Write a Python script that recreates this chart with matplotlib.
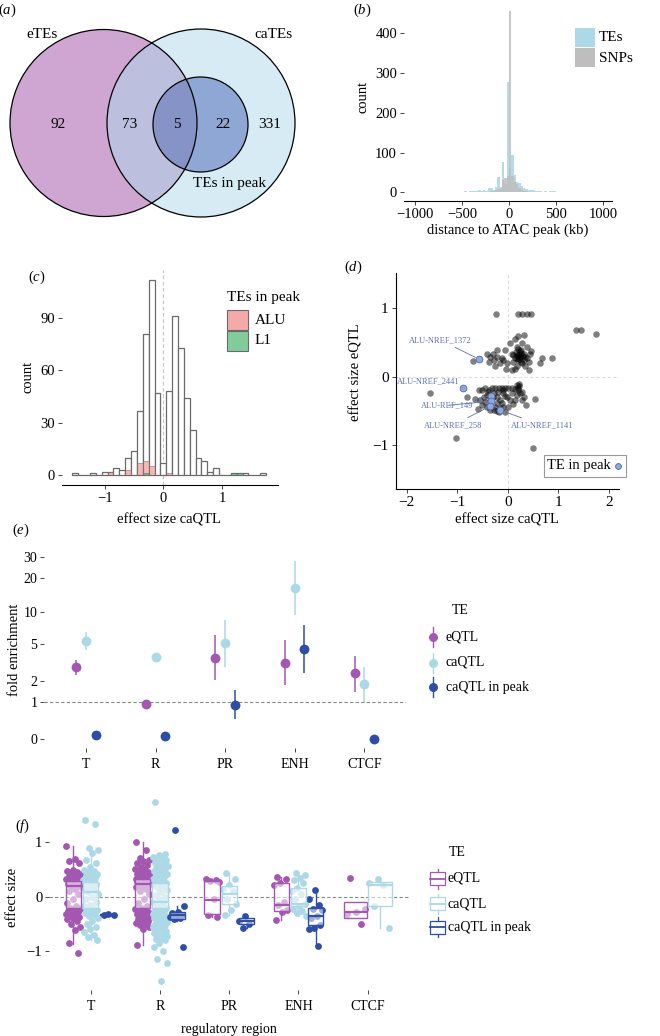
import numpy as np
import matplotlib
matplotlib.use('Agg')
import matplotlib.pyplot as plt
from matplotlib.patches import Circle, Rectangle

plt.rcParams['font.family'] = ['Liberation Serif', 'DejaVu Serif']
plt.rcParams['mathtext.fontset'] = 'custom'
plt.rcParams['mathtext.rm'] = 'Liberation Serif'
plt.rcParams['mathtext.it'] = 'Liberation Serif:italic'
plt.rcParams['font.size'] = 10
plt.rcParams['axes.unicode_minus'] = True

W, H = 660, 1036

# ---------------- data ----------------
# (a) venn counts: eTEs only, eTEs&caTEs, eTEs&peak, caTEs&peak, caTEs only
venn_values = [92, 73, 5, 22, 331]

# (b) distance of TEs / SNPs to ATAC peak, 25 kb bins from -1000 to 1000
dist_edges = np.arange(-1000, 1001, 25)
te_counts = [1, 1, 2, 1, 1, 2, 1, 1, 2, 1, 2, 1, 1, 2, 2, 1, 2, 2, 1, 2,
             2, 3, 2, 3, 3, 4, 3, 5, 4, 6,
             3, 10, 12, 6, 14, 39, 14, 75, 20, 276,
             60, 94, 44, 27, 24, 16, 10, 8, 6, 7,
             5, 4, 3, 4, 2, 3, 2, 3, 4, 3,
             2, 1, 2, 1, 1, 2, 1, 1, 2, 1, 1, 2, 1, 1, 1, 2, 1, 1, 1, 1]
snp_counts = [0] * 30 + [1, 2, 3, 4, 6, 8, 12, 30, 35, 40,
                         455, 40, 25, 20, 10, 6, 4, 3, 2, 2] + [0] * 30

# (c) caQTL effect size histogram, bins of 0.1
es_centers = [-1.5, -1.4, -1.3, -1.2, -1.1, -1.0, -0.9, -0.8, -0.7, -0.6, -0.5,
              -0.4, -0.3, -0.2, -0.1, 0.0, 0.1, 0.2, 0.3, 0.4, 0.5, 0.6, 0.7,
              0.8, 0.9, 1.0, 1.1, 1.2, 1.3, 1.4, 1.5, 1.6, 1.7]
es_all = [1, 0, 0, 1, 0, 2, 2, 4, 3, 10, 14, 37, 81, 112, 47, 7, 48, 91, 73,
          44, 26, 10, 8, 2, 4, 0, 0, 1, 1, 1, 0, 0, 1]
es_alu = [0, 0, 0, 0, 0, 0, 2, 0, 0, 3, 0, 7, 8, 5, 0, 0, 1, 0, 0,
          0, 0, 0, 0, 0, 0, 0, 0, 0, 0, 0, 0, 0, 0]
es_l1 = [0, 0, 0, 0, 0, 0, 0, 0, 0, 0, 0, 0, 1, 0, 0, 0, 0, 0, 0,
         0, 0, 0, 0, 0, 0, 0, 0, 1, 1, 0, 0, 0, 0]

# (d) caQTL vs eQTL effect sizes
d_ca = [-0.41, -0.36, -0.38, -0.28, -0.25, -0.22, -0.15, -0.09, -0.05, -0.03,
        0.05, 0.08, 0.11, 0.14, 0.18, 0.21, 0.24, 0.26, 0.28, 0.31, 0.31, 0.34,
        0.38, 0.41, 0.44, 0.46, 0.14, 0.08, 0.21, 0.18, 0.34, 0.28, 0.11, 0.18,
        0.24, 0.38, 0.31, -0.30, -0.22, -0.12, -0.02, 0.42,
        0.20, 0.22, 0.25, 0.19, 0.23, 0.27, 0.17, 0.29, 0.15, 0.26, 0.21,
        -0.24, 0.21, 0.28, 0.38, 0.46, 1.35, 1.44, 1.74, 0.87, 0.68, 0.63, -0.69,
        -0.58, -0.51, -0.45, -0.38, -0.32, -0.25, -0.18, -0.12, -0.05, 0.01,
        0.08, 0.18, 0.23, 0.21, 0.24, 0.28, 0.31, 0.28, -0.28, -0.22, -0.15,
        -0.09, -0.02, -0.22, -0.35, -0.41, -0.35, -0.28, -0.22, -0.15, -0.09,
        -0.48, -0.45, -0.41, -0.51, -0.55, 0.05, -0.12, -0.05, 0.01, 0.18,
        0.14, 0.08, -0.20, -0.10, -0.30, 0.20, 0.22, -0.25, -0.18, -0.40, 0.15,
        -0.05, -1.55, -1.02, 0.49, 0.54, -0.81, -0.66, -0.60, 0.36, 0.10]
d_e = [0.34, 0.29, 0.22, 0.24, 0.15, 0.29, 0.20, 0.24, 0.39, 0.12,
       0.49, 0.34, 0.22, 0.56, 0.44, 0.59, 0.29, 0.39, 0.20, 0.61, 0.34, 0.29,
       0.44, 0.22, 0.34, 0.37, 0.12, 0.10, 0.24, 0.15, 0.15, 0.49, 0.32, 0.32,
       0.37, 0.27, 0.24, 0.34, 0.39, 0.27, 0.20, 0.10,
       0.30, 0.33, 0.31, 0.27, 0.26, 0.35, 0.36, 0.30, 0.28, 0.22, 0.40,
       0.92, 0.92, 0.92, 0.92, 0.92, 0.69, 0.69, 0.63, 0.28, 0.27, 0.20, 0.23,
       -0.19, -0.20, -0.17, -0.20, -0.16, -0.16, -0.17, -0.16, -0.16, -0.17,
       -0.16, -0.12, -0.10, -0.17, -0.24, -0.22, -0.29, -0.34, -0.24, -0.29,
       -0.34, -0.24, -0.29, -0.39, -0.34, -0.44, -0.49, -0.49, -0.50, -0.46,
       -0.44, -0.29, -0.37, -0.27, -0.41, -0.34, -0.34, -0.39, -0.51, -0.44,
       -0.27, -0.34, -0.24, -0.22, -0.20, -0.30, -0.20, -0.14, -0.45, -0.52,
       -0.22, -0.18, -0.28, -0.24, -0.90, -1.05, -0.32, -0.29, -0.32, -0.47,
       -0.41, -0.40]
peak_ca = [-0.58, -0.89, -0.34, -0.34, -0.35, -0.15]
peak_e = [0.26, -0.16, -0.28, -0.36, -0.43, -0.49]
peak_names = ['ALU-NREF_1372', 'ALU-NREF_2441', 'ALU-REF_149', '',
              'ALU-NREF_258', 'ALU-NREF_1141']

# (e) fold enrichment by regulatory region
regions = ['T', 'R', 'PR', 'ENH', 'CTCF']
fe_eqtl = [2.87, 0.92, 3.64, 3.22, 2.45]
fe_eqtl_lo = [2.35, 0.90, 2.04, 1.77, 1.44]
fe_eqtl_hi = [3.44, 0.94, 6.11, 5.47, 3.79]
fe_caqtl = [5.39, 3.70, 5.08, 16.2, 1.80]
fe_caqtl_lo = [4.36, 3.65, 2.92, 9.38, 1.02]
fe_caqtl_hi = [6.58, 3.75, 8.44, 27.9, 2.87]
fe_peak = [0.07, 0.06, 0.90, 4.43, 0.0]
fe_peak_lo = [0.07, 0.06, 0.45, 2.45, 0.0]
fe_peak_hi = [0.07, 0.06, 1.52, 7.59, 0.0]

# (f) effect sizes per region (points) and box statistics
eqtl_pts = {
    'T': [0.93, 0.70, 0.66, 0.62, 0.50, 0.48, 0.46, 0.44, 0.42, 0.40, 0.38, 0.36,
          0.35, 0.33, 0.31, 0.30, 0.28, 0.26, 0.24, 0.22, 0.20, 0.18, 0.15, 0.10,
          0.05, -0.05, -0.12, -0.18, -0.20, -0.22, -0.24, -0.26, -0.28, -0.30,
          -0.32, -0.34, -0.36, -0.38, -0.40, -0.42, -0.45, -0.50, -0.55, -0.62,
          -0.86, -1.04],
    'R': [1.00, 0.86, 0.72, 0.68, 0.65, 0.62, 0.58, 0.55, 0.52, 0.50, 0.48, 0.46,
          0.44, 0.42, 0.41, 0.40, 0.38, 0.37, 0.36, 0.35, 0.34, 0.33, 0.32, 0.31,
          0.30, 0.29, 0.28, 0.27, 0.26, 0.25, 0.24, 0.23, 0.22, 0.20, 0.18, 0.15,
          0.10, 0.05, -0.05, -0.12, -0.18, -0.20, -0.22, -0.24, -0.26, -0.28,
          -0.30, -0.32, -0.34, -0.36, -0.38, -0.40, -0.42, -0.44, -0.46, -0.48,
          -0.50, -0.53, -0.56, -0.60, -0.89],
    'PR': [0.33, 0.31, 0.29, 0.27, -0.05, -0.33, -0.38],
    'ENH': [0.37, 0.33, 0.25, 0.22, -0.10, -0.15, -0.25, -0.28, -0.43],
    'CTCF': [0.35, -0.22, -0.29, -0.32, -0.50],
}
caqtl_pts = {
    'T': [1.42, 1.35, 0.89, 0.86, 0.80, 0.68, 0.62, 0.55, 0.50, 0.48, 0.45, 0.42,
          0.40, 0.38, 0.35, 0.33, 0.30, 0.28, 0.26, 0.24, 0.20, 0.15, 0.12, 0.09,
          0.05, 0.00, -0.05, -0.10, -0.15, -0.18, -0.20, -0.22, -0.25, -0.28,
          -0.30, -0.33, -0.36, -0.40, -0.45, -0.50, -0.55, -0.60, -0.65, -0.70,
          -0.75, -0.79],
    'R': [1.75, 0.78, 0.77, 0.74, 0.73, 0.70, 0.67, 0.66, 0.63, 0.61, 0.60, 0.57,
          0.56, 0.53, 0.52, 0.50, 0.47, 0.46, 0.43, 0.42, 0.40, 0.37, 0.36, 0.33,
          0.32, 0.30, 0.27, 0.26, 0.23, 0.22, 0.20, 0.16, 0.12, 0.08, 0.03, 0.00,
          -0.04, -0.09, -0.12, -0.17, -0.20, -0.21, -0.24, -0.27, -0.28, -0.31,
          -0.32, -0.35, -0.36, -0.39, -0.40, -0.43, -0.44, -0.47, -0.48, -0.51,
          -0.52, -0.55, -0.56, -0.59, -0.60, -0.63, -0.64, -0.67, -0.68, -0.71,
          -0.72, -0.75, -0.78, -0.80, -0.86, -0.92, -1.00, -1.15, -1.23, -1.55],
    'PR': [0.43, 0.33, 0.22, 0.15, 0.10, -0.05, -0.14, -0.25, -0.33],
    'ENH': [0.43, 0.40, 0.35, 0.30, 0.25, 0.17, 0.10, 0.05, -0.05, -0.13, -0.18,
            -0.22, -0.27, -0.30, -0.35],
    'CTCF': [0.33, 0.25, 0.21, -0.17, -0.57],
}
peak_pts = {
    'T': [-0.34, -0.33, -0.32],
    'R': [1.23, -0.17, -0.28, -0.30, -0.33, -0.35, -0.38, -0.40, -0.42, -0.92],
    'PR': [-0.35, -0.45, -0.50, -0.58],
    'ENH': [0.12, -0.05, -0.15, -0.22, -0.25, -0.35, -0.40, -0.53, -0.58, -0.60,
            -0.90],
    'CTCF': [],
}
# q1, median, q3, whisker low, whisker high
eqtl_box = {'T': [-0.20, 0.20, 0.29, -0.87, 0.93], 'R': [-0.21, 0.23, 0.32, -0.89, 1.00],
            'PR': [-0.31, -0.06, 0.29, -0.38, 0.33], 'ENH': [-0.26, -0.15, 0.26, -0.43, 0.37],
            'CTCF': [-0.39, -0.29, -0.09, -0.39, -0.09]}
caqtl_box = {'T': [-0.20, 0.09, 0.28, -0.79, 0.89], 'R': [-0.20, -0.09, 0.26, -0.80, 0.80],
             'PR': [-0.14, 0.05, 0.20, -0.33, 0.43], 'ENH': [-0.18, -0.13, 0.17, -0.35, 0.43],
             'CTCF': [-0.17, 0.21, 0.28, -0.57, 0.33]}
peak_box = {'T': [-0.34, -0.33, -0.32, -0.34, -0.32], 'R': [-0.41, -0.34, -0.28, -0.45, -0.17],
            'PR': [-0.51, -0.45, -0.39, -0.58, -0.35], 'ENH': [-0.53, -0.36, -0.21, -0.90, 0.12]}

C_E = '#a357b0'
C_CA = '#add8e6'
C_PK = '#2e4da5'
C_BLUEPT = '#8eaadb'
C_LBL = '#5a6fb8'

# ---------------- figure ----------------
fig = plt.figure(figsize=(W / 100, H / 100), dpi=100)


def px_axes(left, top, right, bottom):
    return fig.add_axes([left / W, 1 - bottom / H, (right - left) / W, (bottom - top) / H])


def label_at(ax, which, x, y):
    pt = fig.transFigure.transform((x / W, 1 - y / H))
    axy = ax.transAxes.inverted().transform(pt)
    getattr(ax, which + 'axis').set_label_coords(*axy)


def style(ax, spines=(), size=10.5):
    for s in ['top', 'right', 'left', 'bottom']:
        ax.spines[s].set_visible(s in spines)
        ax.spines[s].set_linewidth(0.8)
    ax.tick_params(length=3, width=0.7, color='#444444', labelsize=size, pad=2)
    ax.patch.set_alpha(0)


def jitter(n, half, shift):
    k = np.arange(n)
    return ((k * 0.6180339887 + shift) % 1 - 0.5) * 2 * half


# ---- (b) ----
axb = px_axes(404, 8, 612, 201.3)
style(axb, ['bottom'])
centers_b = (dist_edges[:-1] + dist_edges[1:]) / 2
axb.bar(centers_b, te_counts, width=25, color=C_CA, alpha=0.9, lw=0)
axb.bar(centers_b, snp_counts, width=25, color='#bebebe', alpha=0.85, lw=0)
axb.set_xlim(-1117, 1096)
axb.set_ylim(-22.5, 463)
axb.set_xticks([-1000, -500, 0, 500, 1000])
axb.set_yticks([0, 100, 200, 300, 400])
axb.set_xlabel('distance to ATAC peak (kb)', fontsize=10.5, va='center')
axb.set_ylabel('count', fontsize=10.5, va='center')
label_at(axb, 'x', 508, 230)
label_at(axb, 'y', 363, 97)

# ---- (c) ----
axc = px_axes(62, 270, 278.3, 485)
style(axc, ['bottom'])
axc.axvline(0, color='#c8c8c8', lw=0.9, ls=(0, (3, 2)), zorder=0)
axc.bar(es_centers, es_all, width=0.1, color='white', edgecolor='#6a6a6a', lw=0.9, zorder=2)
axc.bar(es_centers, es_alu, width=0.1, color='#f08a86', alpha=0.6, edgecolor='#6a6a6a', lw=0.6, zorder=3)
axc.bar(es_centers, es_l1, width=0.1, color='#3aa860', alpha=0.6, edgecolor='#6a6a6a', lw=0.6, zorder=3)
axc.set_xlim(-1.726, 1.959)
axc.set_ylim(-5.7, 117.6)
axc.set_xticks([-1, 0, 1])
axc.set_yticks([0, 30, 60, 90])
axc.set_xlabel('effect size caQTL', fontsize=10.5, va='center')
axc.set_ylabel('count', fontsize=10.5, va='center')
label_at(axc, 'x', 169, 520)
label_at(axc, 'y', 28, 377)

# ---- (d) ----
axd = px_axes(395.7, 273, 619, 489.3)
style(axd, ['left', 'bottom'], size=11)
axd.axvline(0, color='#dddddd', lw=0.8, ls=(0, (3, 2)), zorder=0)
axd.axhline(0, color='#dddddd', lw=0.8, ls=(0, (3, 2)), zorder=0)
axd.scatter(d_ca, d_e, s=22, color='black', alpha=0.5, lw=0, zorder=2)
axd.scatter(peak_ca, peak_e, s=24, color=C_BLUEPT, edgecolor='#5269b0', lw=0.6, zorder=3)
lbl_pos = [(-1.34, 0.54), (-1.57, -0.06), (-1.20, -0.42), (-1.20, -0.42),
           (-1.08, -0.71), (0.67, -0.71)]
for name, x, y, tp in zip(peak_names, peak_ca, peak_e, lbl_pos):
    axd.annotate(name, xy=(x, y), xytext=tp, fontsize=6, color=C_LBL, ha='center', va='center',
                 arrowprops=dict(arrowstyle='-', color=C_LBL, lw=0.6, shrinkA=1, shrinkB=2.5),
                 zorder=4)
axd.set_xlim(-2.22, 2.2)
axd.set_ylim(-1.65, 1.52)
axd.set_xticks([-2, -1, 0, 1, 2])
axd.set_yticks([-1, 0, 1])
axd.set_xlabel('effect size caQTL', fontsize=10.5, va='center')
axd.set_ylabel('effect size eQTL', fontsize=10.5, va='center')
label_at(axd, 'x', 507, 520)
label_at(axd, 'y', 356, 372)

# ---- (e) ----
axe = px_axes(44.2, 553.5, 406, 748)
style(axe, size=10)
axe.set_yscale('function', functions=(np.log1p, np.expm1))
xs = np.arange(1, len(regions) + 1)
axe.plot([0.4, 5.6], [1, 1], color='#888888', lw=0.8, ls=(0, (3, 2)), zorder=1)
for vals, lo, hi, col, off in [(fe_eqtl, fe_eqtl_lo, fe_eqtl_hi, C_E, -0.14),
                               (fe_caqtl, fe_caqtl_lo, fe_caqtl_hi, C_CA, 0.0),
                               (fe_peak, fe_peak_lo, fe_peak_hi, C_PK, 0.14)]:
    axe.vlines(xs + off, lo, hi, color=col, lw=1.1, zorder=2)
    axe.scatter(xs + off, vals, s=50, color=col, lw=0, zorder=3)
axe.set_xlim(0.4, 5.6)
axe.set_ylim(np.expm1(-0.17), np.expm1(3.5))
axe.set_yticks([0, 1, 2, 5, 10, 20, 30])
axe.set_yticklabels(['0', '1', '2', '5', '10', '20', '30'])
axe.set_xticks(xs)
axe.set_xticklabels(regions)
axe.tick_params(axis='x', labelsize=10, pad=4)
axe.set_ylabel('fold enrichment', fontsize=10.5, va='center')
label_at(axe, 'y', 15, 650)

# ---- (f) ----
axf = px_axes(49.2, 792.6, 409.2, 990)
style(axf)
axf.plot([0.4, 5.6], [0, 0], color='#888888', lw=0.8, ls=(0, (3, 2)), zorder=1)
groups = [(eqtl_pts, eqtl_box, C_E), (caqtl_pts, caqtl_box, C_CA), (peak_pts, peak_box, C_PK)]
for ri, reg in enumerate(regions):
    present = [g for g in groups if reg in g[1]]
    offs = [-0.25, 0.0, 0.25] if len(present) == 3 else [-0.175, 0.175]
    bw = 0.22 if len(present) == 3 else 0.34
    for gi, ((pts, box, col), off) in enumerate(zip(present, offs)):
        x0 = ri + 1 + off
        vals = pts[reg]
        axf.scatter(x0 + jitter(len(vals), bw * 0.5, 0.13 * gi + 0.07 * ri), vals,
                    s=24, color=col, lw=0, zorder=2)
        q1, med, q3, wlo, whi = box[reg]
        st = dict(q1=q1, med=med, q3=q3, whislo=wlo, whishi=whi)
        axf.bxp([st], positions=[x0], widths=bw, patch_artist=True, showfliers=False,
                showcaps=False, manage_ticks=False,
                boxprops=dict(facecolor=(1, 1, 1, 0.55), edgecolor=col, lw=1.0),
                whiskerprops=dict(color=col, lw=1.0),
                medianprops=dict(color=col, lw=1.6), zorder=3)
axf.set_xlim(0.4, 5.6)
axf.set_ylim(-1.72, 1.92)
axf.set_yticks([-1, 0, 1])
axf.set_xticks(xs)
axf.set_xticklabels(regions)
axf.tick_params(axis='x', labelsize=10, pad=4)
axf.set_ylabel('effect size', fontsize=10.5, va='center')
axf.set_xlabel('regulatory region', fontsize=10, va='center')
label_at(axf, 'y', 13, 897)
label_at(axf, 'x', 229, 1029)

# ---- overlay: venn, legends, panel letters ----
ov = fig.add_axes([0, 0, 1, 1])
ov.set_xlim(0, W)
ov.set_ylim(H, 0)
ov.axis('off')
ov.set_zorder(10)

left_c = ((103.5, 123), 93.5)
right_c = ((201, 123), 94)
inner_c = ((200.5, 124.5), 47.5)
ov.add_patch(Circle(*left_c, color='#cfa6d2', lw=0))
ov.add_patch(Circle(*right_c, color='#d6ebf3', lw=0))
clipL = Circle(*left_c, transform=ov.transData)
p = Circle(*right_c, color='#bcc0de', lw=0)
ov.add_patch(p)
p.set_clip_path(clipL)
ov.add_patch(Circle(*inner_c, color='#8fa7d4', lw=0))
clipL2 = Circle(*left_c, transform=ov.transData)
p2 = Circle(*inner_c, color='#8593c7', lw=0)
ov.add_patch(p2)
p2.set_clip_path(clipL2)
for c in [left_c, right_c, inner_c]:
    ov.add_patch(Circle(*c, fill=False, edgecolor='black', lw=0.9))
for v, x in zip(venn_values, [58, 130, 177, 223, 270]):
    ov.text(x, 125, str(v), ha='center', va='center', fontsize=11)
ov.text(42, 34, 'eTEs', ha='center', va='center', fontsize=11)
ov.text(273, 34, 'caTEs', ha='center', va='center', fontsize=11)
ov.text(230, 183, 'TEs in peak', ha='center', va='center', fontsize=11)

# legend (b)
ov.add_patch(Rectangle((575, 28.3), 20, 18.4, color=C_CA, lw=0))
ov.add_patch(Rectangle((575, 48.3), 20, 19, color='#bebebe', lw=0))
ov.text(599, 37.5, 'TEs', va='center', fontsize=11)
ov.text(599, 58, 'SNPs', va='center', fontsize=11)

# legend (c)
ov.text(227, 298, 'TEs in peak', va='center', fontsize=11)
ov.add_patch(Rectangle((227.3, 310), 20.4, 20, facecolor='#f4aaa8', edgecolor='#6a6a6a', lw=0.8))
ov.add_patch(Rectangle((227.3, 331), 20.4, 20, facecolor='#82cc9c', edgecolor='#6a6a6a', lw=0.8))
ov.text(255, 320, 'ALU', va='center', fontsize=11)
ov.text(255, 341, 'L1', va='center', fontsize=11)

# legend (d)
ov.add_patch(Rectangle((544, 455), 82, 22, facecolor='white', edgecolor='#999999', lw=0.8))
ov.text(547, 466, 'TE in peak', va='center', fontsize=10.5)
ov.scatter([618], [466], s=18, color=C_BLUEPT, edgecolor='#5269b0', lw=0.6)

# legend (e)
ov.text(460, 611, 'TE', ha='center', va='center', fontsize=10)
for y, col, name in [(637, C_E, 'eQTL'), (662.5, C_CA, 'caQTL'), (687, C_PK, 'caQTL in peak')]:
    ov.plot([433, 433], [y - 10, y + 10], color=col, lw=1.0)
    ov.scatter([433], [y], s=42, color=col, lw=0)
    ov.text(446, y, name, va='center', fontsize=10)

# legend (f)
ov.text(457, 852, 'TE', ha='center', va='center', fontsize=10)
for y, col, name in [(878.5, C_E, 'eQTL'), (903.5, C_CA, 'caQTL'), (927, C_PK, 'caQTL in peak')]:
    ov.plot([437.5, 437.5], [y - 10, y - 6.5], color=col, lw=0.9)
    ov.plot([437.5, 437.5], [y + 6.5, y + 10], color=col, lw=0.9)
    ov.add_patch(Rectangle((430, y - 6.5), 15, 13, facecolor='white', edgecolor=col, lw=0.9))
    ov.plot([430, 445], [y, y], color=col, lw=1.3)
    ov.text(448, y, name, va='center', fontsize=10)

for txt, x, y in [('a', 7.5, 10), ('b', 362, 10), ('c', 37, 277), ('d', 353, 267),
                  ('e', 21, 530), ('f', 23, 826)]:
    ov.text(x, y, '($\\it{' + txt + '}$)', ha='center', va='center', fontsize=10.5)

fig.savefig('out.png', dpi=100)
